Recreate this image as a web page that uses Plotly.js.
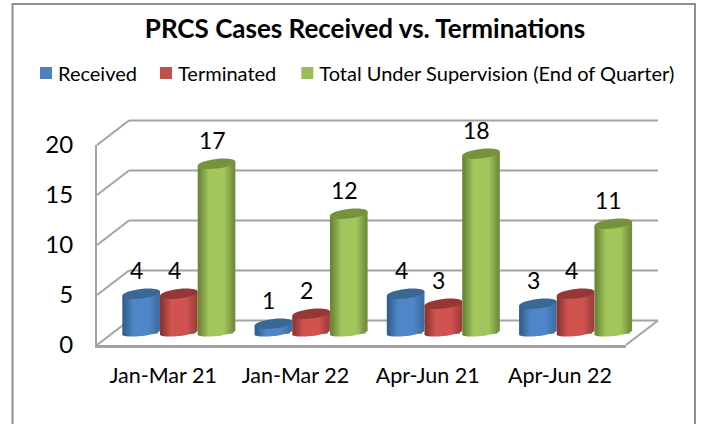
<!DOCTYPE html>
<html><head><meta charset="utf-8">
<script src="https://cdn.plot.ly/plotly-3.0.1.min.js"></script>
<style>html,body{margin:0;padding:0;background:#fff}#c{width:703px;height:424px}</style>
</head><body><div id="c"></div>
<script>
const categories = ["Jan-Mar 21", "Jan-Mar 22", "Apr-Jun 21", "Apr-Jun 22"];
const received = [4, 1, 4, 3];
const terminated = [4, 2, 3, 4];
const totalUnder = [17, 12, 18, 11];
const seriesNames = ["Received", "Terminated", "Total Under Supervision (End of Quarter)"];
const yTicks = [0, 5, 10, 15, 20];
const seriesValues = [received, terminated, totalUnder];
const baseColors = ["#4f81bd", "#c0504d", "#9bbb59"];
const capColors = ["#3b6795", "#953735", "#76923c"];
const gradStops = [["#34608f","#4f86c8","#3f6ea5"],["#8f3633","#d0534f","#a03f3c"],["#6c8838","#a2c65b","#728f3c"]];
const legendShift = [-2, -6, -8];

const W = 703, H = 424, FONT = "Lato, Carlito, sans-serif";
const GRID = "#a3a3a3";
const fx = { l: 97, r: 626, b: 345, t: 145 };    // front frame
const bk = { l: 129, r: 658, b: 320.5, t: 120.5 }; // back wall
const barAxis = { l: 112.7, r: 641.7, zero: 333.8, top: 133.8 };
const period = (barAxis.r - barAxis.l) / categories.length;
const bargap = 0.145, slot = period * (1 - bargap) / 3;
const px = x => x / W, py = y => 1 - y / H;
const valY = v => barAxis.zero - (barAxis.zero - barAxis.top) / 20 * v;
const barL = (g, s) => barAxis.l + period * g + period * bargap / 2 + slot * s;

function ellipse(cx, cy, a, tilt, b) {
  const k = 0.5523;
  const P = (c, s) => `${px(cx + a * c).toFixed(5)},${py(cy - tilt * c + b * s).toFixed(5)}`;
  return `M${P(-1,0)} C${P(-1,-k)} ${P(-k,-1)} ${P(0,-1)} C${P(k,-1)} ${P(1,-k)} ${P(1,0)} ` +
         `C${P(1,k)} ${P(k,1)} ${P(0,1)} C${P(-k,1)} ${P(-1,k)} ${P(-1,0)} Z`;
}
const lineShape = (x0, y0, x1, y1) => ({ type: "line", xref: "paper", yref: "paper", layer: "below",
  x0: px(x0), y0: py(y0), x1: px(x1), y1: py(y1), line: { color: GRID, width: 2 } });

const shapes = [];
shapes.push({ type: "rect", xref: "paper", yref: "paper", layer: "below",
  x0: px(12.5), y0: py(4), x1: px(695), y1: py(440), line: { color: "#8e8e8e", width: 2 }, fillcolor: "rgba(0,0,0,0)" });
yTicks.forEach(v => {
  const yb = bk.b - (bk.b - bk.t) * v / 20, yf = fx.b - (fx.b - fx.t) * v / 20;
  shapes.push(lineShape(bk.l, yb, bk.r, yb));
  shapes.push(lineShape(fx.l, yf, bk.l, yb));
});
shapes.push(lineShape(fx.r, fx.b, bk.r, bk.b));

const gradMap = {};
const annotations = [];
categories.forEach((c, g) => {
  seriesValues.forEach((vals, s) => {
    const v = vals[g], x0 = barL(g, s), a = slot / 2, cx = x0 + a, top = valY(v), base = 332.5;
    gradMap[shapes.length] = s;
    shapes.push({ type: "path", xref: "paper", yref: "paper", layer: "above", line: { width: 0 },
      fillcolor: baseColors[s], path: ellipse(cx, base, a, 2, 3.6) });
    gradMap[shapes.length] = s;
    shapes.push({ type: "path", xref: "paper", yref: "paper", layer: "above", line: { width: 0 }, fillcolor: baseColors[s],
      path: `M${px(x0)},${py(base + 2)} L${px(x0)},${py(top + 2)} L${px(x0 + slot)},${py(top - 2)} L${px(x0 + slot)},${py(base - 2)} Z` });
    shapes.push({ type: "path", xref: "paper", yref: "paper", layer: "above", line: { width: 0 },
      fillcolor: capColors[s], path: ellipse(cx, top, a, 2, 4.8) });
    annotations.push({ xref: "paper", yref: "paper", x: px(cx - 4.5), y: py(top - 23.5), text: String(v), showarrow: false,
      xanchor: "center", yanchor: "middle", font: { family: FONT, size: 23, color: "#000" } });
  });
});

const traces = seriesValues.map((vals, s) => ({
  type: "bar", name: seriesNames[s], x: categories, y: vals, xaxis: "x2", yaxis: "y2",
  marker: { color: baseColors[s], line: { width: 0 } }, hoverinfo: "skip"
}));
traces.push({ type: "scatter", mode: "none", x: categories, y: categories.map(() => 0), xaxis: "x", yaxis: "y", showlegend: false, hoverinfo: "skip" });

const layout = {
  width: W, height: H, margin: { l: 0, r: 0, t: 0, b: 0 }, paper_bgcolor: "#fff", plot_bgcolor: "rgba(0,0,0,0)",
  font: { family: FONT, color: "#000" }, showlegend: true,
  title: { text: "<b>PRCS Cases Received vs. Terminations</b>", x: px(365), xanchor: "center", y: py(29), yanchor: "middle", font: { family: FONT, size: 26, color: "#000" } },
  barmode: "group", bargap: bargap, bargroupgap: 0.12,
  legend: { orientation: "h", x: px(20), xanchor: "left", y: py(73), yanchor: "middle", font: { family: FONT, size: 20, color: "#000" }, bgcolor: "rgba(0,0,0,0)", itemclick: false },
  xaxis: { type: "category", categoryorder: "array", categoryarray: categories, range: [-0.5, 3.5], domain: [px(fx.l), px(fx.r)], anchor: "y",
    showgrid: false, zeroline: false, showline: true, linecolor: GRID, linewidth: 3, ticks: "", ticklabelstandoff: 9, tickfont: { family: FONT, size: 21.5 } },
  yaxis: { range: [0, 20], domain: [py(fx.b), py(fx.t)], anchor: "x", tickvals: yTicks, showgrid: false, zeroline: false,
    showline: true, linecolor: GRID, linewidth: 2, ticks: "", ticklabelstandoff: 17, tickfont: { family: FONT, size: 24 } },
  xaxis2: { type: "category", categoryorder: "array", categoryarray: categories, domain: [px(barAxis.l), px(barAxis.r)], anchor: "y2", visible: false },
  yaxis2: { range: [0, 20], domain: [py(barAxis.zero), py(barAxis.top)], anchor: "x2", visible: false },
  shapes: shapes, annotations: annotations
};

Plotly.newPlot("c", traces, layout, { displayModeBar: false, staticPlot: true }).then(gd => {
  const svg = gd.querySelector(".main-svg");
  const ns = "http://www.w3.org/2000/svg";
  let defs = svg.querySelector("defs");
  gradStops.forEach((st, i) => {
    const lg = document.createElementNS(ns, "linearGradient");
    lg.setAttribute("id", "cyl" + i);
    [[0, st[0]], [0.05, st[0]], [0.3, st[1]], [0.7, st[1]], [0.95, st[2]], [1, st[2]]].forEach(p => {
      const e = document.createElementNS(ns, "stop");
      e.setAttribute("offset", p[0]); e.setAttribute("stop-color", p[1]);
      lg.appendChild(e);
    });
    defs.appendChild(lg);
  });
  gd.querySelectorAll(".layer-above .shapelayer path").forEach(p => {
    const i = p.getAttribute("data-index");
    if (gradMap[i] !== undefined) p.style.fill = `url(#cyl${gradMap[i]})`;
  });
  gd.querySelectorAll(".barlayer .trace").forEach((t, s) => {
    t.querySelectorAll("path").forEach(p => { p.style.fill = `url(#cyl${s})`; });
  });
  gd.querySelectorAll(".legend .legendsymbols").forEach(g => { g.setAttribute("transform", "translate(8,0)"); });
  gd.querySelectorAll(".legend .traces").forEach((t, i) => {
    const m = /translate\(([-\d.]+),\s*([-\d.]+)\)/.exec(t.getAttribute("transform") || "");
    if (m) t.setAttribute("transform", `translate(${+m[1] + legendShift[i]},${m[2]})`);
  });
});
</script>
</body></html>
